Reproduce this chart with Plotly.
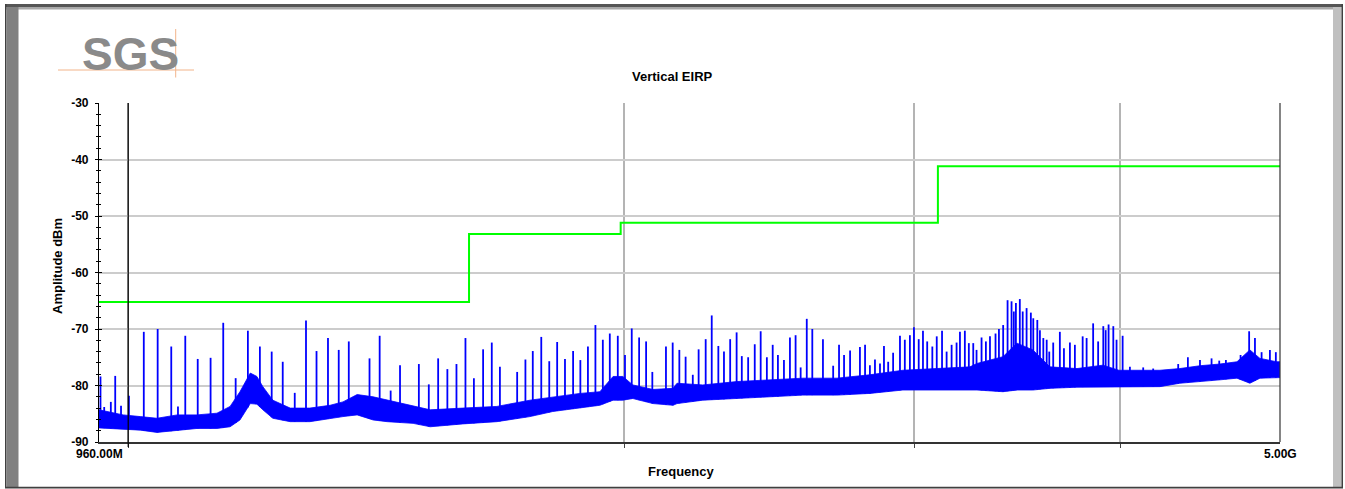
import numpy as np
import plotly.graph_objects as go

# ---------------- data (frequency in MHz, level in dBm) ----------------
limit_f = [960, 1610, 1610, 1990, 1990, 3100, 3100, 5000]
limit_db = [-65.2, -65.2, -53.2, -53.2, -51.2, -51.2, -41.2, -41.2]

env_f = [960, 993, 1017, 1041, 1071, 1101, 1132, 1153, 1169, 1186, 1197, 1207, 1224,
         1254, 1289, 1326, 1350, 1377, 1408, 1436, 1489, 1525, 1596, 1674, 1753, 1810,
         1880, 1933, 1969, 1996, 2024, 2082, 2141, 2153, 2232, 2341, 2452, 2567, 2692,
         2819, 2952, 3095, 3242, 3274, 3395, 3462, 3540, 3625, 3765, 3904, 3992, 4071,
         4228, 4347, 4471, 4597, 4708, 4794, 4862, 4978, 5000]
env_lo = [-87.5, -87.7, -87.9, -88.3, -88.0, -87.6, -87.6, -87.3, -86.1, -83.2, -83.3, -84.3, -85.8,
          -86.4, -86.4, -85.8, -85.5, -85.2, -86.1, -86.4, -86.7, -87.3, -86.8, -86.4, -85.5, -84.6,
          -84.0, -83.5, -82.6, -82.6, -82.3, -83.2, -83.5, -83.2, -82.6, -82.3, -82.0, -81.7, -81.7,
          -81.4, -80.8, -80.8, -80.8, -80.8, -81.1, -80.8, -80.8, -80.5, -80.3, -80.2, -80.2, -80.2,
          -80.2, -79.6, -79.3, -79.0, -78.7, -79.6, -78.7, -78.6, -78.6]
env_hi = [-84.3, -85.2, -85.5, -85.8, -85.2, -85.2, -84.9, -83.7, -81.1, -77.8, -78.4, -80.2, -82.6,
          -84.0, -84.0, -83.5, -82.9, -81.6, -82.0, -82.6, -83.7, -84.3, -84.0, -83.7, -82.6, -82.0,
          -81.4, -81.1, -78.4, -78.4, -79.9, -80.7, -80.5, -79.6, -79.9, -79.3, -79.0, -78.7, -78.7,
          -78.1, -77.3, -77.0, -76.7, -76.1, -74.9, -72.5, -73.7, -76.7, -77.0, -76.4, -77.3, -77.3,
          -77.3, -77.0, -76.5, -76.2, -75.8, -73.7, -75.2, -75.8, -75.8]

# discrete spurs: frequency (MHz) and peak level (dBm)
spur_f = [962, 967, 976, 982, 990, 1001, 1022, 1042, 1062, 1072, 1083, 1102, 1122, 1142, 1162,
          1182, 1202, 1222, 1241, 1262, 1282, 1301, 1322, 1342, 1361, 1401, 1421, 1443, 1462,
          1501, 1522, 1542, 1562, 1582, 1602, 1621, 1642, 1662, 1681, 1722, 1742, 1760, 1781,
          1801, 1821, 1841, 1862, 1881, 1901, 1921, 1941, 1960, 1982, 2002, 2021, 2042, 2062,
          2080, 2120, 2140, 2160, 2179, 2201, 2219, 2241, 2260, 2281, 2299, 2319, 2340, 2357,
          2378, 2400, 2420, 2441, 2461, 2479, 2500, 2521, 2541, 2559, 2581, 2601, 2640, 2678,
          2700, 2719, 2742, 2780, 2800, 2819, 2839, 2859, 2875, 2892, 2912, 2940, 2960, 2981,
          2998, 3018, 3036, 3054, 3076, 3095, 3118, 3138, 3160, 3182, 3197, 3219, 3237, 3257,
          3272, 3295, 3315, 3334, 3360, 3376, 3396, 3417, 3436, 3447, 3457, 3476, 3490, 3509,
          3530, 3542, 3562, 3575, 3592, 3609, 3622, 3642, 3676, 3697, 3728, 3754, 3795, 3816,
          3851, 3878, 3906, 3919, 3935, 3961, 3979, 4013, 4054, 4130, 4188, 4337, 4396, 4471,
          4544, 4593, 4636, 4732, 4789, 4828, 4873, 4930, 4971]
spur_db = [-78.4, -83.8, -82.9, -78.3, -83.6, -81.8, -70.5, -70.0, -73.1, -83.7, -71.2, -75.3, -75.1, -68.9, -78.7,
           -70.3, -73.1, -74.0, -75.8, -81.3, -68.5, -73.9, -71.6, -73.7, -72.2, -75.2, -71.2, -80.9, -76.4,
           -76.2, -79.8, -75.2, -77.1, -76.2, -71.6, -78.7, -73.6, -72.4, -76.7, -77.6, -75.4, -73.9, -71.4,
           -75.7, -72.3, -75.3, -73.9, -75.5, -73.1, -69.3, -71.9, -70.8, -71.2, -74.6, -69.9, -71.5, -72.2,
           -77.6, -73.1, -72.4, -73.7, -74.9, -78.1, -73.6, -71.8, -67.6, -73.0, -74.0, -71.8, -70.6, -74.8,
           -75.0, -72.7, -70.4, -75.0, -72.8, -74.6, -75.5, -71.5, -71.1, -76.8, -68.2, -70.0, -71.8, -76.5,
           -72.8, -74.6, -73.8, -73.2, -72.8, -76.4, -75.4, -76.1, -73.0, -75.8, -74.2, -71.2, -71.9, -71.1,
           -69.7, -71.8, -70.3, -72.2, -73.1, -71.3, -70.3, -74.0, -72.8, -72.4, -70.5, -70.3, -72.5, -72.5,
           -73.7, -71.5, -72.2, -71.3, -70.8, -70.0, -69.3, -64.9, -65.1, -66.9, -65.4, -64.7, -66.9, -66.3,
           -67.1, -68.1, -68.4, -70.2, -71.6, -71.9, -74.0, -72.4, -70.5, -73.4, -72.4, -72.8, -71.3, -71.6,
           -69.0, -72.2, -69.5, -70.2, -69.2, -69.5, -71.9, -71.2, -76.7, -76.8, -77.0, -76.2, -75.0, -75.5,
           -75.2, -75.6, -75.5, -74.6, -70.4, -71.6, -74.1, -73.7, -74.1]

y_ticks = [-90, -80, -70, -60, -50, -40, -30]
y_tick_text = ["-90", "-80", "-70", "-60", "-50", "-40", "-30"]
x_grid = [1000, 2000, 3000, 4000]
x_start_label, x_stop_label = "960.00M", "5.00G"

# ---------------- layout geometry helpers (pixel -> paper) ----------------
W, H = 1345, 489
L, R, T, B = 99, 1280, 103, 442
def px(x):
    return (x - L) / (R - L)
def py(y):
    return (B - y) / (B - T)

FONT = "Liberation Sans, Arial, sans-serif"
BLUE = "#0000ff"

fig = go.Figure()

# noise band
band_x = env_f + env_f[::-1]
band_y = env_hi + env_lo[::-1]
fig.add_trace(go.Scatter(x=band_x, y=band_y, fill="toself", fillcolor=BLUE,
                         mode="lines", line=dict(color=BLUE, width=0.8),
                         hoverinfo="skip", showlegend=False))

# spurs
lf = np.log10(env_f)
sx, sy = [], []
for f, p in zip(spur_f, spur_db):
    foot = float(np.interp(np.log10(f), lf, env_lo))
    sx += [f, f, None]
    sy += [foot, p, None]
fig.add_trace(go.Scatter(x=sx, y=sy, mode="lines", line=dict(color=BLUE, width=1.8),
                         hoverinfo="skip", showlegend=False))

# limit line
fig.add_trace(go.Scatter(x=limit_f, y=limit_db, mode="lines", yaxis="y2",
                         line=dict(color="#00ff00", width=2), showlegend=False))

shapes = []
# 1 GHz dark marker line
shapes.append(dict(type="line", xref="x", yref="paper", x0=1000, x1=1000,
                   y0=py(447), y1=1, line=dict(color="black", width=1.2), layer="above"))
# right border of plot
shapes.append(dict(type="line", xref="paper", yref="paper", x0=1, x1=1, y0=0, y1=1,
                   line=dict(color="#333333", width=1.2), layer="above"))
# page frame
def rect(x0, y0, x1, y1, color):
    return dict(type="rect", xref="paper", yref="paper", x0=px(x0), x1=px(x1),
                y0=py(y1), y1=py(y0), fillcolor=color, line=dict(width=0), layer="below")
shapes.append(rect(5, 4, 1343, 7, "#555555"))
shapes.append(rect(6, 7, 1333, 9.5, "#a8a8a8"))
shapes.append(rect(5, 4, 6.5, 488, "#404040"))
shapes.append(rect(6.5, 7, 18.5, 487, "#808080"))
shapes.append(rect(1333, 7, 1341.5, 487, "#c0c0c0"))
shapes.append(rect(1341.5, 4, 1343, 488, "#404040"))
shapes.append(rect(5, 486.8, 1343, 488.5, "#404040"))
# SGS logo lines
shapes.append(dict(type="line", xref="paper", yref="paper", x0=px(58), x1=px(194),
                   y0=py(70), y1=py(70), line=dict(color="#f2b48a", width=1)))
shapes.append(dict(type="line", xref="paper", yref="paper", x0=px(175.7), x1=px(175.7),
                   y0=py(29), y1=py(77.5), line=dict(color="#f2b48a", width=1)))

ann = []
def text(s, x, y, size=13, color="black", angle=0, bold=True, family=FONT):
    ann.append(dict(text=f"<b>{s}</b>" if bold else s, xref="paper", yref="paper",
                    x=px(x), y=py(y), xanchor="center", yanchor="middle", showarrow=False,
                    textangle=angle, font=dict(size=size, color=color, family=family)))
text("Vertical EIRP", 672, 76, 13)
text("Frequency", 681.5, 471.5, 13)
text("Amplitude dBm", 57, 266, 13, angle=-90)
text(x_start_label, 99, 453.5, 12)
text(x_stop_label, 1280, 453.5, 12)
text("SGS", 130.5, 54, 46, color="#8a8a8a")

fig.update_layout(
    width=W, height=H, margin=dict(l=L, r=W - R, t=T, b=H - B, pad=0),
    paper_bgcolor="white", plot_bgcolor="white", showlegend=False,
    font=dict(family=FONT, size=12, color="black"),
    shapes=shapes, annotations=ann,
    xaxis=dict(type="log", range=[np.log10(960), np.log10(5000)], tickvals=x_grid,
               showticklabels=False, showgrid=True, gridcolor="#b4b4b4", gridwidth=1.5,
               ticks="outside", ticklen=4, tickcolor="#444444", tickwidth=1.2,
               showline=True, linecolor="#333333", linewidth=1.5, zeroline=False),
    yaxis=dict(range=[-90, -30], tickvals=y_ticks, ticktext=y_tick_text, showgrid=True,
               gridcolor="#cccccc", gridwidth=1.5, ticks="outside", ticklen=3,
               tickcolor="black", tickwidth=1,
               showline=True, linecolor="black", linewidth=1.2, zeroline=False,
               ticklabelstandoff=4, tickfont=dict(size=12, family=FONT, weight="bold"),
               minor=dict(dtick=2, ticks="outside", ticklen=2, tickcolor="black", showgrid=False)),
    yaxis2=dict(range=[-90, -30], overlaying="y", side="left", tickvals=y_ticks,
                showgrid=False, showticklabels=False, ticks="inside", ticklen=3,
                tickcolor="black", zeroline=False,
                minor=dict(dtick=2, ticks="inside", ticklen=2, tickcolor="black", showgrid=False)),
)

fig.write_html("out.html", config={"displayModeBar": False},
               post_script="document.body.style.margin='0';document.body.style.overflow='hidden';")
